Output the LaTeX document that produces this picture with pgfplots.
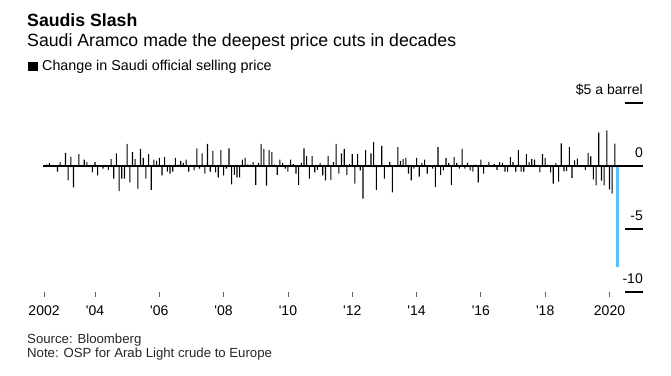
\documentclass[border=0pt]{standalone}
\usepackage{pgfplots}
\pgfplotsset{compat=1.18}
\usepackage{pgfplotstable}
\usepackage{fontspec}
\setmainfont{Liberation Sans}
\newfontfamily\tickfont{Liberation Sans}
\definecolor{cutblue}{RGB}{85,195,250}

% monthly change in OSP, index 0 = June 2002
\pgfplotstableread{
i v
0 0.05
1 0.1
2 0.25
3 0.08
4 0
5 -0.45
6 0.3
7 0
8 1.05
9 -1.15
10 0.75
11 -1.7
12 0.05
13 0.95
14 0
15 0.5
16 0.3
17 -0.1
18 -0.5
19 0.3
20 -0.75
21 0
22 -0.2
23 0
24 -0.3
25 0.55
26 -1.0
27 1.0
28 -2.0
29 -1.0
30 -1.0
31 1.75
32 -1.3
33 1.1
34 0.55
35 -1.8
36 1.35
37 0.65
38 -1.0
39 0.95
40 -1.9
41 0.5
42 0.4
43 0.65
44 -0.75
45 0.7
46 -0.45
47 -0.6
48 -0.45
49 0.65
50 0.1
51 0.4
52 0.25
53 0.5
54 -0.45
55 0
56 -0.35
57 1.4
58 -0.2
59 1.0
60 -0.6
61 1.75
62 -0.45
63 1.2
64 -0.5
65 -0.9
66 1.25
67 -0.75
68 -0.2
69 1.4
70 -1.45
71 -0.7
72 -0.9
73 -0.9
74 0.5
75 0.65
76 0.1
77 0.1
78 0.3
79 -1.5
80 0.25
81 1.75
82 1.35
83 -1.55
84 1.25
85 1.1
86 0.1
87 -0.7
88 0.5
89 0.25
90 -0.2
91 -0.45
92 0.5
93 0.15
94 -0.6
95 -1.5
96 0.25
97 1.4
98 0.8
99 -1.0
100 0.8
101 -0.5
102 -0.3
103 0.25
104 -0.75
105 -1.15
106 0.8
107 -1.1
108 0.3
109 1.75
110 -0.6
111 1.0
112 1.35
113 -0.7
114 0.15
115 0.95
116 -1.4
117 0.95
118 -0.35
119 -2.6
120 1.25
121 0
122 1.0
123 1.9
124 -1.9
125 -0.1
126 1.6
127 -1.0
128 0
129 0.3
130 -2.1
131 0
132 1.5
133 0.4
134 0.55
135 0.65
136 -0.6
137 -1.15
138 -0.2
139 0.65
140 -0.85
141 0.25
142 0.5
143 -0.6
144 0
145 -0.2
146 -1.65
147 1.5
148 -0.7
149 -0.35
150 0.65
151 0.25
152 -1.5
153 0.7
154 0.25
155 -0.2
156 1.35
157 -0.2
158 0.25
159 -0.35
160 -0.45
161 0.1
162 -1.3
163 0.5
164 -0.6
165 0
166 0.3
167 0
168 0.15
169 -0.3
170 0.3
171 0.25
172 -0.45
173 -0.45
174 0.7
175 0.3
176 -0.45
177 1.25
178 -0.45
179 -0.45
180 0.95
181 0.3
182 0.55
183 0.5
184 0
185 -0.5
186 0.95
187 0.65
188 0
189 -0.5
190 -1.4
191 0.25
192 -1.25
193 1.8
194 -0.42
195 -0.4
196 1.5
197 -0.95
198 0.45
199 0.58
200 0
201 0
202 -0.3
203 1.05
204 0.77
205 -1.06
206 -1.53
207 2.65
208 -1.16
209 -1.53
210 2.83
211 -1.85
212 -2.2
213 1.77
}\osp

\begin{document}
\begin{tikzpicture}
\useasboundingbox (0,0) rectangle (671bp,376bp);
\node[anchor=base west, inner sep=0pt] at (27bp,349.3bp) {\fontsize{17.7bp}{20bp}\selectfont\bfseries Saudis Slash};
\node[anchor=base west, inner sep=0pt] at (27bp,329.3bp) {\fontsize{17.7bp}{20bp}\selectfont Saudi Aramco made the deepest price cuts in decades};
\fill[black] (28.3bp,304.5bp) rectangle (37.7bp,313.5bp);
\node[anchor=base west, inner sep=0pt] at (42bp,305bp) {\fontsize{14.3bp}{16bp}\selectfont Change in Saudi official selling price};
\node[anchor=base west, inner sep=0pt, text=black!85] at (27bp,33bp) {\fontsize{13.2bp}{15bp}\selectfont Source: Bloomberg};
\node[anchor=base west, inner sep=0pt, text=black!85] at (27bp,19bp) {\fontsize{13.2bp}{15bp}\selectfont Note: OSP for Arab Light crude to Europe};
\begin{axis}[
  at={(43bp,79bp)}, anchor=south west,
  scale only axis, width=600bp, height=194bp,
  xmin=-0.4, xmax=223.5, ymin=-10.4, ymax=5,
  axis line style={draw=none},
  clip=false,
  xtick={0,19,43,67,91,115,139,163,187,211},
  xticklabels={2002,'04,'06,'08,'10,'12,'14,'16,'18,2020},
  xtick pos=bottom, tick align=inside, major tick length=5bp,
  xtick style={color=black!60, line width=0.8bp},
  xticklabel style={font=\tickfont\fontsize{14bp}{16bp}\selectfont, anchor=base, inner sep=0pt, yshift=-19bp},
  ytick={-10,-5,0,5},
  yticklabels={-10,-5,0,\$5 a barrel},
  ytick pos=right, ytick style={draw=none},
  yticklabel style={font=\tickfont\fontsize{14bp}{16bp}\selectfont, anchor=base east, inner sep=0pt, yshift=8bp},
]
\addplot[ybar, bar width=1.1bp, bar shift=0pt, fill=black, draw=none] table[x=i,y=v]{\osp};
\addplot[ybar, bar width=2.2bp, bar shift=0pt, fill=cutblue, draw=none] coordinates {(214,-8.0)};
\draw[black, line width=1.1bp] (axis cs:-0.4,0) -- (axis cs:223.5,0);
\draw[black, line width=1.2bp] (axis cs:216.8,5) -- (axis cs:223.5,5);
\draw[black, line width=1.2bp] (axis cs:216.8,-5) -- (axis cs:223.5,-5);
\draw[black, line width=1.2bp] (axis cs:216.8,-10) -- (axis cs:223.5,-10);
\end{axis}
\end{tikzpicture}
\end{document}
